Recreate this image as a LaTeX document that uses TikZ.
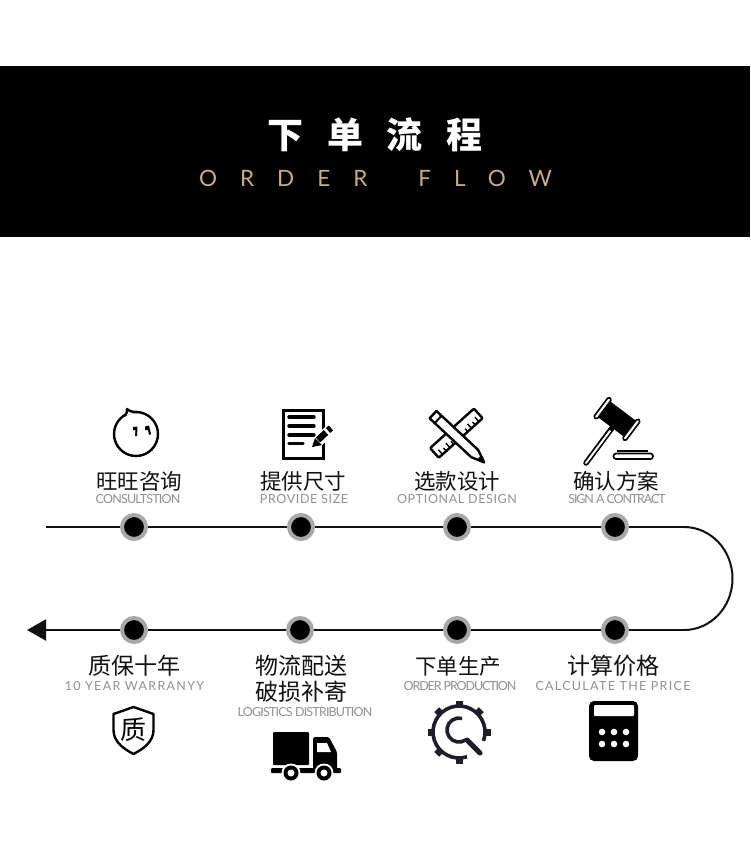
\documentclass[tikz,border=0pt]{standalone}
\usepackage{fontspec}
\usetikzlibrary{positioning, arrows.meta}
\newfontfamily\cjkfont{Noto Sans CJK SC}
\newfontfamily\flowfont[LetterSpace=102]{Lato}
\newfontfamily\subnarrow[LetterSpace=-9]{Lato}
\newfontfamily\subtight[LetterSpace=-6.5]{Lato}
\newfontfamily\subwide[LetterSpace=5]{Lato}
\newfontfamily\subwider[LetterSpace=10.5]{Lato}
\definecolor{bandfill}{HTML}{000000}
\definecolor{tanfont}{HTML}{C9AC86}
\definecolor{subgray}{HTML}{919191}
\definecolor{ringgray}{HTML}{A8A8A8}
\definecolor{edgecol}{HTML}{111111}
\definecolor{gearcol}{HTML}{1E1E2A}
\tikzset{
    stepdot/.style={
        circle, fill=black, draw=ringgray, line width=4pt,
        minimum size=24pt, inner sep=0pt,
    },
    cnlabel/.style={
        inner sep=0pt, text=edgecol, align=center,
        font=\cjkfont\fontsize{21.5}{25}\selectfont,
    },
    cnwide/.style={
        cnlabel, font=\cjkfont\fontsize{23}{25.5}\selectfont,
    },
    enlabel/.style={
        inner sep=0pt, text=subgray, font=\subtight\fontsize{12.5}{14}\selectfont,
    },
    ennarrow/.style={
        enlabel, font=\subnarrow\fontsize{12.5}{14}\selectfont,
    },
    enwide/.style={
        enlabel, font=\subwide\fontsize{12.5}{14}\selectfont,
    },
    enwider/.style={
        enlabel, font=\subwider\fontsize{12.5}{14}\selectfont,
    },
    flowline/.style={edgecol, line width=2pt},
    flowarr/.style={-{Triangle[length=19pt,width=21pt]}, edgecol, line width=2pt},
    iconline/.style={black, line width=2.4pt, line join=round},
}

\begin{document}
\begin{tikzpicture}[x=1pt, y=-1pt]
\useasboundingbox (0,0) rectangle (750,843);
\fill[white] (0,0) rectangle (750,843);

% ── Title band ─────────────────────────────────────────────────────
\fill[bandfill] (0,66) rectangle (750,237);
\node[text=white, inner sep=0pt, font=\cjkfont\bfseries\fontsize{36}{40}\selectfont] (title) at (375,135)
    {下\hspace{23.5pt}单\hspace{23.5pt}流\hspace{23.5pt}程};
\node[text=tanfont, inner sep=0pt, anchor=west, font=\flowfont\fontsize{22.5}{26}\selectfont] (subtitle) at (199,178)
    {ORDER\hspace{51pt}FLOW};

% ── Step dots ──────────────────────────────────────────────────────
\node[stepdot] (dot1) at (134,527) {};
\node[stepdot] (dot2) at (301,527) {};
\node[stepdot] (dot3) at (457,527) {};
\node[stepdot] (dot4) at (615,527) {};
\node[stepdot] (dot5) at (615,630) {};
\node[stepdot] (dot6) at (457,630) {};
\node[stepdot] (dot7) at (300,630) {};
\node[stepdot] (dot8) at (134,630) {};

\coordinate (flowstart) at (46,527);
\coordinate (flowend) at (27,630);
\coordinate (turntop) at (684,527);
\coordinate (turnbot) at (684,630);

% ── Flow line ──────────────────────────────────────────────────────
\draw[flowline] (flowstart) -- (dot1);
\draw[flowline] (dot1) -- (dot2);
\draw[flowline] (dot2) -- (dot3);
\draw[flowline] (dot3) -- (dot4);
\draw[flowline] (dot4) -- (turntop);
\draw[flowline] (turntop) arc[start angle=-90, end angle=90, x radius=48.5, y radius=51.5];
\draw[flowline] (turnbot) -- (dot5);
\draw[flowline] (dot5) -- (dot6);
\draw[flowline] (dot6) -- (dot7);
\draw[flowline] (dot7) -- (dot8);
\draw[flowarr] (dot8) -- (flowend);

% ── Labels, top row ────────────────────────────────────────────────
\node[cnlabel] (cn1) at (139,481) {旺旺咨询};
\node[enlabel] (en1) at (138,499.5) {CONSULTSTION};
\node[cnlabel] (cn2) at (303,481) {提供尺寸};
\node[enwide] (en2) at (304,499.5) {PROVIDE SIZE};
\node[cnlabel] (cn3) at (457,481) {选款设计};
\node[enwide] (en3) at (457,499.5) {OPTIONAL DESIGN};
\node[cnlabel] (cn4) at (616,481) {确认方案};
\node[ennarrow] (en4) at (617,499.5) {SIGN A CONTRACT};

% ── Labels, bottom row ─────────────────────────────────────────────
\node[cnwide] (cn5) at (613,666) {计算价格};
\node[enwider] (en5) at (613,686) {CALCULATE THE PRICE};
\node[cnlabel] (cn6) at (458,666) {下单生产};
\node[ennarrow] (en6) at (460,686) {ORDER PRODUCTION};
\node[cnwide] (cn7) at (301.5,679) {物流配送\\破损补寄};
\node[enlabel] (en7) at (305,712) {LOGISTICS DISTRIBUTION};
\node[cnwide] (cn8) at (134,666) {质保十年};
\node[enwider] (en8) at (134.5,686) {10 YEAR WARRANYY};

% ── Icon: chat bubble ──────────────────────────────────────────────
\draw[iconline] (136,434) circle[radius=22];
\draw[iconline, fill=white] (124,416) .. controls (127,414) and (127,412) .. (127,409)
    .. controls (130,412) and (134,412) .. (138,412);
\fill (133,427) -- (137.5,426.5) -- (137,436) -- (135,436) -- (135.5,430) -- (133,430) -- cycle;
\fill (145,426.5) -- (149,425.5) -- (151,434) -- (149,435) -- (148,430) -- (145,430) -- cycle;

% ── Icon: form and pencil ──────────────────────────────────────────
\draw[black, line width=3pt] (283,410.5) rectangle (323,458);
\draw[black, line width=3.4pt, line cap=round]
    (289,417) -- (314,417) (289,426) -- (314,426) (289,435) -- (314,435) (289,443.5) -- (303,443.5);
\draw[white, line width=11pt] (312,447) -- (331,429);
\fill (312,447) -- (315,438) -- (322,445) -- cycle;
\draw[black, line width=6.5pt] (318,440) -- (326,432.5);
\draw[black, line width=6.5pt] (328,430.5) -- (331,428);

% ── Icon: ruler and pencil ─────────────────────────────────────────
\draw[iconline, fill=white, rounded corners=1pt, rotate around={42:(456,433.5)}] (427,427) rectangle (486,440);
\draw[black, line width=1.4pt, rotate around={42:(456,433.5)}]
    (432,440) -- (432,434) (437,440) -- (437,436) (442,440) -- (442,434) (447,440) -- (447,436)
    (466,440) -- (466,436) (471,440) -- (471,434) (476,440) -- (476,436) (481,440) -- (481,434);
\draw[iconline, fill=white, rotate around={-43:(457.5,437.5)}]
    (424,432.5) -- (481,432.5) -- (494,437.5) -- (481,442.5) -- (424,442.5) -- cycle;
\draw[black, line width=2pt, rotate around={-43:(457.5,437.5)}] (431,432.5) -- (431,442.5);
\fill[rotate around={-43:(457.5,437.5)}] (487,435) -- (494,437.5) -- (487,440) -- cycle;

% ── Icon: gavel ────────────────────────────────────────────────────
\draw[black, line width=5.5pt, line cap=round] (612,428) -- (586,463);
\draw[white, line width=2pt, line cap=round] (610,431) -- (586,463);
\fill[rotate around={-37:(617,419)}] (600,409) rectangle (634,429);
\draw[black, line width=1.6pt, fill=white, rounded corners=1.5pt, rotate around={-37:(617,419)}]
    (597,406.5) rectangle (601,431.5);
\draw[black, line width=1.6pt, fill=white, rounded corners=1.5pt, rotate around={-37:(617,419)}]
    (633,406.5) rectangle (637,431.5);
\draw[black, line width=1.6pt, rounded corners=2.5pt] (613.5,453.5) rectangle (653,459);
\draw[black, line width=2pt] (617,451) -- (648,451);

% ── Icon: shield ───────────────────────────────────────────────────
\draw[iconline] (133.5,707) -- (153.5,714) -- (153.5,730)
    .. controls (153.5,742) and (143,749) .. (133.5,754)
    .. controls (124,749) and (113.5,742) .. (113.5,730) -- (113.5,714) -- cycle;
\node[inner sep=0pt, text=black, font=\cjkfont\fontsize{26}{28}\selectfont] (shieldtext) at (133.5,730) {质};

% ── Icon: truck ────────────────────────────────────────────────────
\fill[rounded corners=1pt] (273,732) rectangle (309,765);
\fill[rounded corners=1.5pt] (313,737) -- (329,737) -- (337,752) -- (337,770) -- (313,770) -- cycle;
\fill[white] (317,743) -- (327,743) -- (331,752) -- (317,752) -- cycle;
\fill[rounded corners=1pt] (271,768) rectangle (341,773);
\foreach \wx in {291,324} {
    \fill[white] (\wx,773) circle[radius=9.5];
    \fill (\wx,773) circle[radius=7.5];
    \fill[white] (\wx,773) circle[radius=3.5];
}

% ── Icon: gear and magnifier ───────────────────────────────────────
\draw[gearcol, line width=3.6pt] (459,732) ++(72:26) arc[start angle=72, end angle=380, radius=26];
\foreach \ga in {0,90,135,180,225,270,315} {
    \draw[gearcol, line width=7pt] (459,732) ++(\ga:25) -- ++(\ga:6.5);
}
\draw[gearcol, line width=3.6pt] (459,730) ++(55:12) arc[start angle=55, end angle=285, radius=12];
\draw[gearcol, line width=5pt, line cap=round] (467,740) -- (480,753);

% ── Icon: calculator ───────────────────────────────────────────────
\fill[rounded corners=5pt] (589,701) rectangle (638,761);
\fill[white, rounded corners=1pt] (594,705) rectangle (634,716);
\foreach \cx in {602,614,626} {
    \foreach \cy in {732,744} {
        \fill[white] (\cx,\cy) circle[radius=3.3];
    }
}
\end{tikzpicture}
\end{document}
